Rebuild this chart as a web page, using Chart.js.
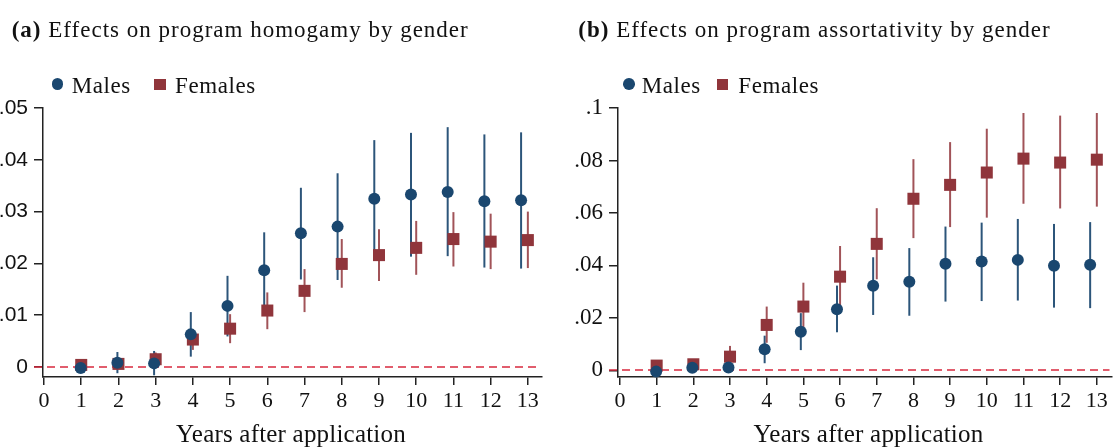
<!DOCTYPE html>
<html>
<head>
<meta charset="utf-8">
<script src="https://cdn.jsdelivr.net/npm/chart.js@4.4.1/dist/chart.umd.min.js"></script>
<style>
  html, body { margin:0; padding:0; background:#fff; }
  body { width:1116px; height:448px; overflow:hidden; position:relative; font-family:"Liberation Serif", serif; color:#111; }
  canvas { position:absolute; top:0; }
  .txt { position:absolute; white-space:nowrap; z-index:2; }
  .title { font-size:23px; line-height:23px; letter-spacing:1px; top:18px; }
  .leg { font-size:23px; line-height:23px; letter-spacing:0.6px; top:74px; }
  .dot { position:absolute; width:11.6px; height:11.6px; border-radius:50%; background:#1a476f; top:78.3px; z-index:2; }
  .sq { position:absolute; width:11.4px; height:11.4px; background:#90353b; top:78.5px; z-index:2; }
  .xt { font-size:25px; line-height:25px; letter-spacing:0.2px; top:420.8px; width:400px; text-align:center; }
</style>
</head>
<body>
<canvas id="ca" width="558" height="448" style="left:0"></canvas>
<canvas id="cb" width="560" height="448" style="left:560px"></canvas>

<div class="txt title" style="left:11.7px"><b>(a)</b> Effects on program homogamy by gender</div>
<div class="txt title" style="left:578.3px"><b>(b)</b> Effects on program assortativity by gender</div>

<div class="dot" style="left:51.7px"></div>
<div class="txt leg" style="left:71.7px">Males</div>
<div class="sq" style="left:154.3px"></div>
<div class="txt leg" style="left:175px">Females</div>

<div class="dot" style="left:623.3px"></div>
<div class="txt leg" style="left:641.7px">Males</div>
<div class="sq" style="left:716.7px"></div>
<div class="txt leg" style="left:738.3px">Females</div>

<div class="txt xt" style="left:91px">Years after application</div>
<div class="txt xt" style="left:668.5px">Years after application</div>

<script>
// ---------- data ----------
const years = [1,2,3,4,5,6,7,8,9,10,11,12,13];
const xTicks = [0,1,2,3,4,5,6,7,8,9,10,11,12,13];

// Panel (a): program homogamy
const aMale   = [-0.0002, 0.0008, 0.0007, 0.0063, 0.0118, 0.0187, 0.0258, 0.0271, 0.0325, 0.0333, 0.0338, 0.0320, 0.0322];
const aMaleLo = [-0.0010,-0.0012,-0.0016, 0.0020, 0.0059, 0.0110, 0.0169, 0.0168, 0.0224, 0.0213, 0.0214, 0.0192, 0.0190];
const aMaleHi = [ 0.0006, 0.0029, 0.0031, 0.0106, 0.0176, 0.0260, 0.0346, 0.0374, 0.0438, 0.0452, 0.0463, 0.0449, 0.0453];
const aFem    = [ 0.0004, 0.0006, 0.0015, 0.0053, 0.0074, 0.0109, 0.0147, 0.0199, 0.0216, 0.0230, 0.0247, 0.0242, 0.0245];
const aFemLo  = [ 0.0000, 0.0000, 0.0002, 0.0033, 0.0046, 0.0073, 0.0106, 0.0153, 0.0166, 0.0178, 0.0194, 0.0189, 0.0191];
const aFemHi  = [ 0.0008, 0.0012, 0.0028, 0.0073, 0.0102, 0.0144, 0.0189, 0.0247, 0.0266, 0.0282, 0.0299, 0.0296, 0.0300];
const aYTicks  = [0, 0.01, 0.02, 0.03, 0.04, 0.05];
const aYLabels = ['0', '.01', '.02', '.03', '.04', '.05'];

// Panel (b): program assortativity
const bMale   = [-0.0005, 0.0010, 0.0011, 0.0080, 0.0147, 0.0233, 0.0322, 0.0338, 0.0406, 0.0415, 0.0421, 0.0399, 0.0402];
const bMaleLo = [-0.0012,-0.0003,-0.0008, 0.0027, 0.0077, 0.0145, 0.0211, 0.0208, 0.0262, 0.0264, 0.0266, 0.0239, 0.0237];
const bMaleHi = [ 0.0002, 0.0023, 0.0030, 0.0132, 0.0218, 0.0323, 0.0431, 0.0466, 0.0548, 0.0563, 0.0577, 0.0558, 0.0565];
const bFem    = [ 0.0018, 0.0023, 0.0052, 0.0173, 0.0243, 0.0357, 0.0482, 0.0654, 0.0707, 0.0754, 0.0807, 0.0792, 0.0803];
const bFemLo  = [ 0.0010, 0.0010, 0.0011, 0.0105, 0.0154, 0.0243, 0.0347, 0.0504, 0.0546, 0.0582, 0.0635, 0.0617, 0.0624];
const bFemHi  = [ 0.0026, 0.0036, 0.0093, 0.0243, 0.0334, 0.0474, 0.0618, 0.0805, 0.0870, 0.0921, 0.0981, 0.0971, 0.0981];
const bYTicks  = [0, 0.02, 0.04, 0.06, 0.08, 0.1];
const bYLabels = ['0', '.02', '.04', '.06', '.08', '.1'];

// ---------- styling ----------
const NAVY = '#1a476f';
const MAROON = '#90353b';
const NAVY_BAR = 'rgba(26,71,111,0.92)';
const MAROON_BAR = 'rgba(144,53,59,0.85)';
const AXIS = '#222';
const ZERO = '#d8283e';
const MALE_DODGE = 0.986; // males drawn slightly left of each year

const errBars = {
  id: 'errBars',
  beforeDatasetsDraw(chart) {
    const { ctx, chartArea, scales: { x, y } } = chart;
    ctx.save();
    const y0 = Math.round(y.getPixelForValue(0));
    ctx.strokeStyle = ZERO; ctx.lineWidth = 1.6; ctx.setLineDash([8, 5]);
    ctx.beginPath(); ctx.moveTo(chartArea.left - 9, y0); ctx.lineTo(chartArea.right - 2, y0); ctx.stroke();
    ctx.setLineDash([]);
    chart.data.datasets.forEach(ds => {
      ctx.strokeStyle = ds.barColor; ctx.lineWidth = 2;
      ds.data.forEach(p => {
        const px = x.getPixelForValue(p.x);
        ctx.beginPath();
        ctx.moveTo(px, y.getPixelForValue(p.lo));
        ctx.lineTo(px, y.getPixelForValue(p.hi));
        ctx.stroke();
      });
    });
    ctx.restore();
  }
};

function pts(vals, lo, hi, dodge) {
  return years.map((t, i) => ({ x: t * dodge, y: vals[i], lo: lo[i], hi: hi[i] }));
}

function makeChart(id, cfg) {
  return new Chart(document.getElementById(id), {
    type: 'scatter',
    data: {
      datasets: [
        { label: 'Males', data: pts(cfg.male, cfg.maleLo, cfg.maleHi, MALE_DODGE), pointStyle: 'circle', pointRadius: 6, pointHoverRadius: 6,
          backgroundColor: NAVY, borderWidth: 0, barColor: NAVY_BAR, clip: false },
        { label: 'Females', data: pts(cfg.fem, cfg.femLo, cfg.femHi, 1), pointStyle: 'rect', pointRadius: 8.5, pointHoverRadius: 8.5,
          backgroundColor: MAROON, borderWidth: 0, barColor: MAROON_BAR, clip: false }
      ]
    },
    options: {
      responsive: false, animation: false, devicePixelRatio: 1, events: [],
      layout: { padding: { top: 108, right: cfg.padRight, bottom: 0, left: 0 } },
      plugins: { legend: { display: false }, tooltip: { enabled: false } },
      scales: {
        x: {
          type: 'linear', min: cfg.xMin, max: cfg.xMax,
          afterBuildTicks: s => { s.ticks = xTicks.map(v => ({ value: v })); },
          afterFit: s => { s.height = 71; },
          ticks: { font: { family: 'Liberation Serif', size: 22 }, color: '#111', padding: 3, autoSkip: false, maxRotation: 0,
                   callback: v => String(v) },
          grid: { drawOnChartArea: false, drawTicks: true, tickLength: 8, color: AXIS, lineWidth: 1.5 },
          border: { display: true, color: AXIS, width: 1.5 }
        },
        y: {
          type: 'linear', min: cfg.yMin, max: cfg.yMax,
          afterBuildTicks: s => { s.ticks = cfg.yTicks.map(v => ({ value: v })); },
          afterFit: s => { s.width = cfg.yWidth; },
          ticks: { font: { family: cfg.yFont, size: cfg.yFontSize }, color: '#111', padding: cfg.yPad, autoSkip: false,
                   callback: v => { const i = cfg.yTicks.findIndex(t => Math.abs(t - v) < 1e-9); return i >= 0 ? cfg.yLabels[i] : ''; } },
          grid: { drawOnChartArea: false, drawTicks: true, tickLength: 9, color: AXIS, lineWidth: 1.5 },
          border: { display: true, color: AXIS, width: 1.5 }
        }
      }
    },
    plugins: [errBars]
  });
}

makeChart('ca', {
  male: aMale, maleLo: aMaleLo, maleHi: aMaleHi, fem: aFem, femLo: aFemLo, femHi: aFemHi,
  yTicks: aYTicks, yLabels: aYLabels, yMin: -0.00193, yMax: 0.05,
  xMin: -0.027, xMax: 13.38, yWidth: 43, padRight: 16,
  yFont: 'Liberation Sans', yFontSize: 21, yPad: 6
});
makeChart('cb', {
  male: bMale, maleLo: bMaleLo, maleHi: bMaleHi, fem: bFem, femLo: bFemLo, femHi: bFemHi,
  yTicks: bYTicks, yLabels: bYLabels, yMin: -0.00255, yMax: 0.1,
  xMin: -0.054, xMax: 13.4, yWidth: 58, padRight: 1,
  yFont: 'Liberation Serif', yFontSize: 23, yPad: 6
});
</script>
</body>
</html>
